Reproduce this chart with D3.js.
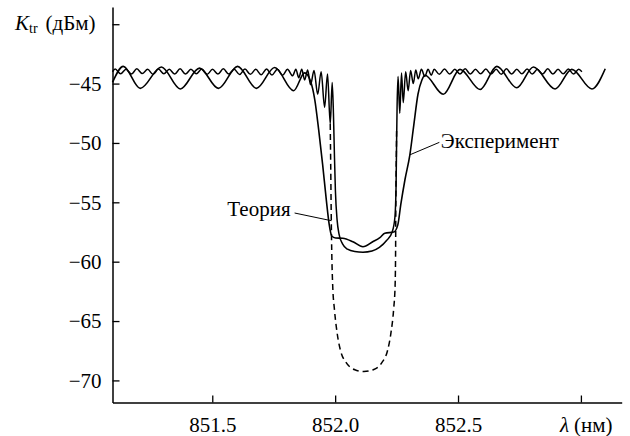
<!DOCTYPE html>
<html><head><meta charset="utf-8">
<script src="https://cdn.jsdelivr.net/npm/d3@7"></script>
<style>
body{margin:0;background:#fff}
svg{display:block}
</style>
</head><body>
<svg id="chart" width="630" height="436"></svg>
<script>
// ---- data (wavelength nm, transmission dBm) ----
const experiment = [
[851.094,-44.9],[851.138,-43.55],[851.207,-45.4],[851.293,-43.6],[851.370,-45.45],[851.448,-43.7],
[851.525,-45.4],[851.603,-43.55],[851.680,-45.4],[851.754,-43.65],[851.831,-45.6],[851.876,-44.1],
[851.900,-44.8],[851.917,-46.35],[851.933,-48.9],[851.949,-51.8],[851.964,-54.8],[851.976,-56.9],
[851.986,-57.84],[852.002,-58.0],[852.031,-58.03],[852.072,-58.32],[852.113,-58.74],[852.153,-58.32],
[852.182,-57.97],[852.202,-57.6],[852.239,-57.5],[852.255,-56.9],[852.267,-55.2],[852.284,-53.1],
[852.304,-51.0],[852.320,-48.5],[852.337,-45.9],[852.353,-44.7],[852.365,-44.3],
[852.440,-45.9],[852.508,-43.8],[852.590,-45.5],[852.658,-43.55],[852.739,-45.35],[852.807,-43.6],
[852.895,-45.45],[852.963,-43.8],[853.045,-45.45],[853.099,-43.75]
];
const theory = [
[851.094,-44.0],
[851.105,-43.78],[851.127,-44.18],[851.149,-43.8],[851.171,-44.2],[851.193,-43.76],[851.215,-44.16],
[851.237,-43.8],[851.259,-44.22],[851.281,-43.78],[851.303,-44.18],[851.325,-43.8],[851.347,-44.2],
[851.369,-43.76],[851.391,-44.2],[851.413,-43.8],[851.435,-44.18],[851.457,-43.78],[851.479,-44.22],
[851.501,-43.8],[851.523,-44.2],[851.545,-43.76],[851.567,-44.2],[851.589,-43.8],[851.611,-44.24],
[851.633,-43.78],[851.655,-44.22],[851.677,-43.8],[851.699,-44.26],[851.721,-43.78],[851.743,-44.28],
[851.765,-43.8],[851.786,-44.3],[851.806,-43.8],[851.827,-44.35],
[851.840,-43.8],[851.852,-44.5],[851.864,-43.8],[851.876,-44.7],[851.888,-43.85],[851.900,-45.1],
[851.914,-43.9],[851.929,-45.9],[851.943,-44.0],[851.957,-47.0],[851.969,-44.2],[851.980,-48.4],
[851.988,-44.9],
[851.993,-47.5],[851.997,-51.0],[852.001,-54.0],[852.008,-56.5],[852.016,-57.7],[852.030,-58.5],
[852.050,-58.95],[852.080,-59.15],[852.113,-59.2],[852.150,-59.1],[852.180,-58.8],[852.210,-58.2],
[852.232,-57.5],[852.243,-56.3],[852.248,-53.5],[852.250,-50.0],[852.252,-47.0],[852.256,-44.4],
[852.263,-47.5],[852.270,-44.1],[852.277,-46.6],[852.287,-44.0],[852.297,-45.6],[852.307,-43.9],
[852.318,-45.0],[852.328,-43.85],[852.338,-44.6],[852.351,-43.8],[852.365,-44.4],[852.378,-43.8],
[852.391,-44.3],
[852.403,-43.8],[852.424,-44.22],[852.445,-43.78],[852.466,-44.2],[852.487,-43.8],[852.508,-44.2],
[852.529,-43.76],[852.550,-44.2],[852.571,-43.8],[852.592,-44.18],[852.613,-43.78],[852.634,-44.2],
[852.655,-43.8],[852.676,-44.22],[852.697,-43.76],[852.718,-44.2],[852.739,-43.8],[852.760,-44.18],
[852.781,-43.78],[852.802,-44.2],[852.823,-43.8],[852.844,-44.2],[852.865,-43.76],[852.886,-44.2],
[852.907,-43.8],[852.928,-44.18],[852.949,-43.78],[852.970,-44.2],[852.991,-43.8],[853.004,-44.0]
];
const theoryDashed = [
[851.980,-48.4],[851.982,-52.0],[851.984,-56.0],[851.986,-59.0],[851.990,-62.0],[851.997,-64.0],
[852.008,-66.0],[852.022,-67.5],[852.045,-68.5],[852.080,-69.1],[852.117,-69.25],[852.155,-69.1],
[852.190,-68.5],[852.213,-67.5],[852.227,-66.0],[852.238,-64.0],[852.244,-62.0],[852.246,-59.0],
[852.247,-55.0],[852.249,-51.0],[852.250,-49.0]
];
const yTicks = [-40,-45,-50,-55,-60,-65,-70];
const yTickLabels = ["","−45","−50","−55","−60","−65","−70"];
const xTicks = [851.5,852.0,852.5,853.0];
const xTickLabels = ["851.5","852.0","852.5",""];
const annotations = [
  {text:"Теория", from:[851.835,-55.9], to:[851.985,-56.55], anchor:"end", dx:-4, dy:3},
  {text:"Эксперимент", from:[852.424,-49.95], to:[852.304,-51.0], anchor:"start", dx:1.5, dy:5.6}
];

// ---- drawing ----
const svg = d3.select("#chart");
const FS = 21;
const FF = '"Liberation Serif"';
const x = d3.scaleLinear().domain([851.094, 853.166]).range([112.5, 621.7]);
const y = d3.scaleLinear().domain([-71.86, -38.55]).range([402.5, 7]);

const line = d3.line().x(d=>x(d[0])).y(d=>y(d[1])).curve(d3.curveMonotoneX);

svg.append("path").datum(theoryDashed).attr("d", line)
  .attr("fill","none").attr("stroke","#000").attr("stroke-width",1.5).attr("stroke-dasharray","6,4");
svg.append("path").datum(theory).attr("d", line)
  .attr("fill","none").attr("stroke","#000").attr("stroke-width",1.5);
svg.append("path").datum(experiment).attr("d", line)
  .attr("fill","none").attr("stroke","#000").attr("stroke-width",1.6);

// axes
const yAxis = d3.axisLeft(y).tickValues(yTicks).tickSizeInner(-7).tickSizeOuter(0).tickPadding(11)
  .tickFormat((d,i)=>yTickLabels[i]);
const gy = svg.append("g").attr("transform","translate(112.5,0)").call(yAxis);
const xAxis = d3.axisBottom(x).tickValues(xTicks).tickSizeInner(-7).tickSizeOuter(0).tickPadding(15)
  .tickFormat((d,i)=>xTickLabels[i]);
const gx = svg.append("g").attr("transform","translate(0,402.5)").call(xAxis);
[gx,gy].forEach(g=>{
  g.attr("font-family",null).attr("font-size",null);
  g.select(".domain").attr("stroke","#000").attr("stroke-width",1.5);
  g.selectAll(".tick line").attr("stroke","#000").attr("stroke-width",1.3);
  g.selectAll("text").style("font-family",FF).attr("font-size",FS).attr("fill","#000");
});

// axis titles
const yt = svg.append("text").attr("x",15).attr("y",30).style("font-family",FF).attr("font-size",FS);
yt.append("tspan").style("font-style","italic").text("K");
yt.append("tspan").attr("font-size",14).attr("dy",3).text("tr");
yt.append("tspan").attr("dy",-3).attr("dx",8).text("(дБм)");

const xt = svg.append("text").attr("x", x(xTicks[3]) - 21).attr("y", 432).style("font-family",FF).attr("font-size",FS);
xt.append("tspan").style("font-style","italic").text("λ");
xt.append("tspan").attr("dx",5).text("(нм)");

// annotations
annotations.forEach(a=>{
  svg.append("line").attr("x1",x(a.from[0])).attr("y1",y(a.from[1]))
    .attr("x2",x(a.to[0])).attr("y2",y(a.to[1])).attr("stroke","#000").attr("stroke-width",1);
  svg.append("text").attr("x",x(a.from[0])+a.dx).attr("y",y(a.from[1])+a.dy)
    .attr("text-anchor",a.anchor).style("font-family",FF).attr("font-size",FS).text(a.text);
});
</script>
</body></html>
